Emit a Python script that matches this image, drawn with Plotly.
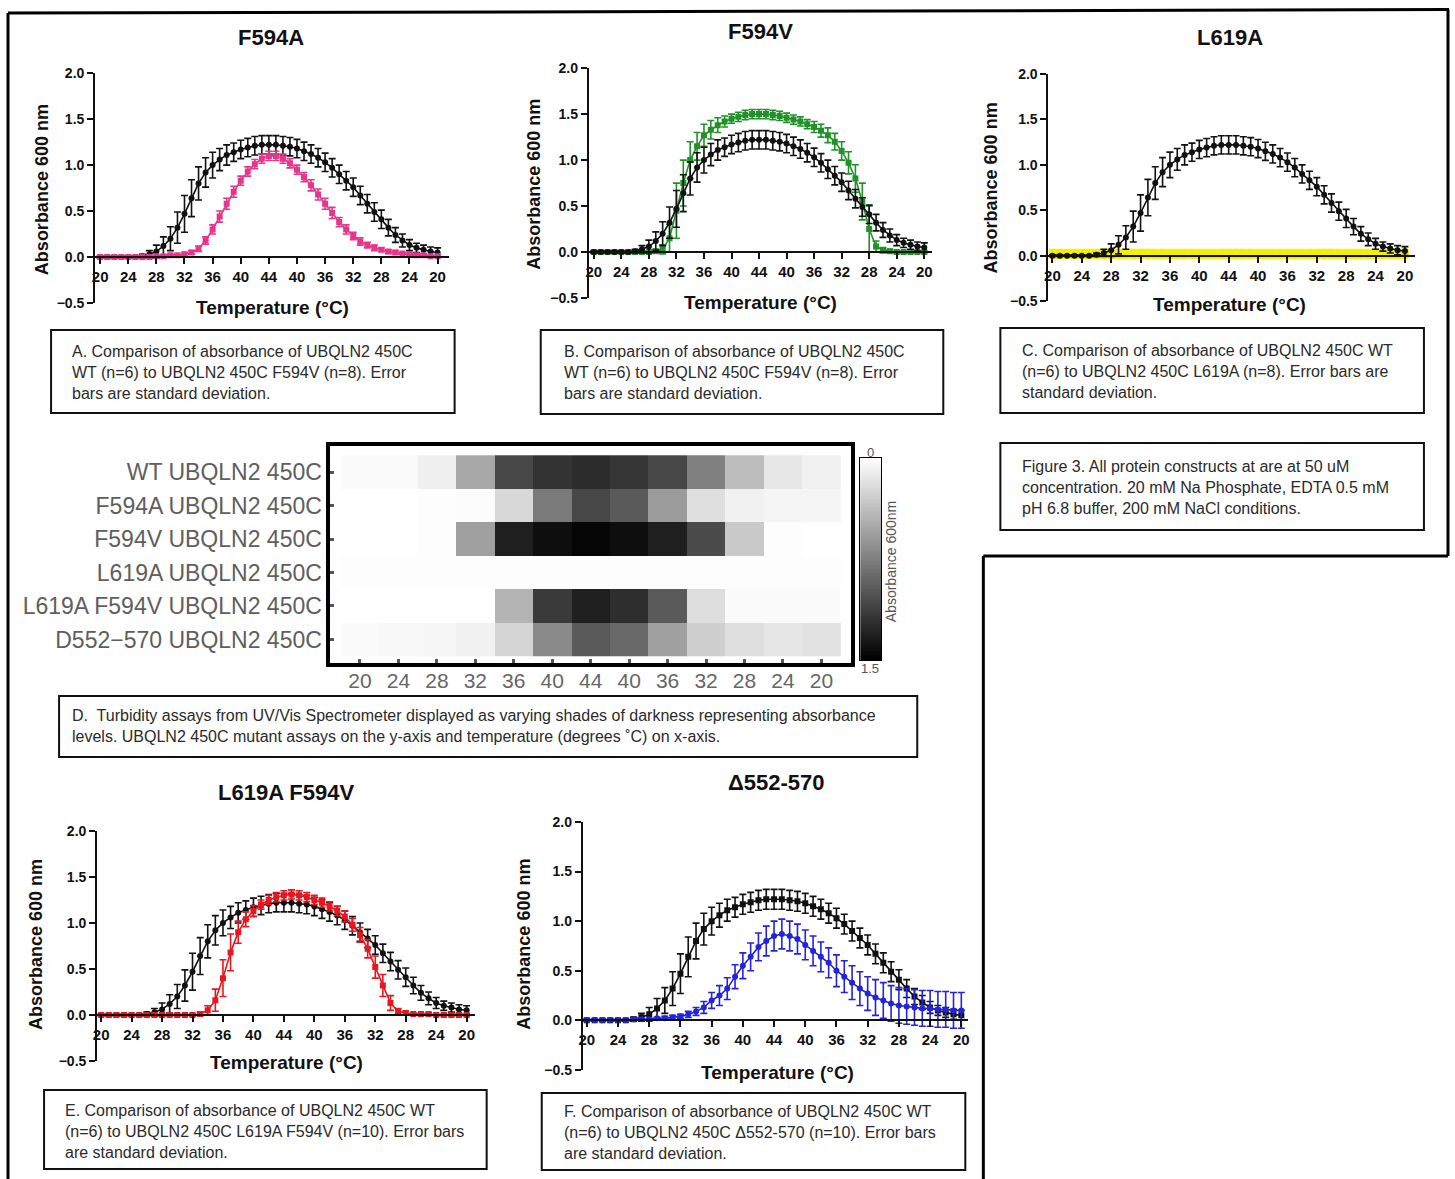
import numpy as np
import plotly.graph_objects as go

W, H = 1455, 1179
FONT = "Liberation Sans, Arial, sans-serif"
# the photographed page shows the figure slightly shifted / compressed;
# layout positions below are given in reference-picture pixels and mapped accordingly
V_SCALE = 1195.0 / 1179.0
V_SHIFT = 8.0
H_SCALE = 0.9952
H_SHIFT = 4.0

# ---------------- data ----------------
TEMPS = [20, 21, 22, 23, 24, 25, 26, 27, 28, 29, 30, 31, 32, 33, 34, 35, 36, 37, 38, 39, 40, 41, 42, 43, 44,
         43, 42, 41, 40, 39, 38, 37, 36, 35, 34, 33, 32, 31, 30, 29, 28, 27, 26, 25, 24, 23, 22, 21, 20]
TICK_LABELS = ["20", "24", "28", "32", "36", "40", "44", "40", "36", "32", "28", "24", "20"]

WT = [0.0, 0.0, 0.0, 0.0, 0.0, 0.0, 0.01, 0.03, 0.06, 0.12, 0.2, 0.32, 0.47, 0.64, 0.8, 0.92, 1.0, 1.06, 1.11,
      1.14, 1.17, 1.19, 1.21, 1.22, 1.22,
      1.22, 1.21, 1.2, 1.18, 1.15, 1.12, 1.08, 1.03, 0.97, 0.9, 0.83, 0.76, 0.67, 0.58, 0.49, 0.41, 0.32, 0.24,
      0.18, 0.13, 0.1, 0.08, 0.06, 0.05]
WT_SD = [0.01, 0.01, 0.01, 0.01, 0.01, 0.01, 0.02, 0.04, 0.07, 0.1, 0.13, 0.17, 0.2, 0.2, 0.18, 0.16, 0.14, 0.12,
         0.11, 0.1, 0.1, 0.1, 0.1, 0.1, 0.1,
         0.1, 0.1, 0.1, 0.1, 0.1, 0.1, 0.1, 0.1, 0.1, 0.1, 0.1, 0.1, 0.1, 0.1, 0.1, 0.1, 0.09, 0.08, 0.07, 0.06,
         0.05, 0.05, 0.05, 0.05]

F594A = [0.0, 0.0, 0.0, 0.0, 0.0, 0.0, 0.0, 0.0, 0.01, 0.01, 0.02, 0.02, 0.03, 0.05, 0.09, 0.18, 0.3, 0.44, 0.58,
         0.71, 0.83, 0.93, 1.01, 1.07, 1.1,
         1.1, 1.07, 1.02, 0.95, 0.87, 0.78, 0.68, 0.58, 0.48, 0.38, 0.3, 0.23, 0.17, 0.13, 0.1, 0.08, 0.06, 0.05,
         0.04, 0.03, 0.02, 0.02, 0.01, 0.01]
F594A_SD = [0.01, 0.01, 0.01, 0.01, 0.01, 0.01, 0.01, 0.01, 0.01, 0.01, 0.01, 0.01, 0.02, 0.02, 0.03, 0.04, 0.05,
            0.06, 0.06, 0.06, 0.05, 0.05, 0.05, 0.05, 0.05,
            0.05, 0.05, 0.05, 0.05, 0.05, 0.06, 0.06, 0.06, 0.06, 0.05, 0.05, 0.04, 0.04, 0.03, 0.03, 0.02, 0.02,
            0.02, 0.01, 0.01, 0.01, 0.01, 0.01, 0.01]

F594V = [0.0, 0.0, 0.0, 0.0, 0.0, 0.0, 0.0, 0.0, 0.0, 0.01, 0.03, 0.15, 0.45, 0.75, 1.0, 1.15, 1.27, 1.33, 1.38,
         1.42, 1.45, 1.47, 1.49, 1.5, 1.5,
         1.5, 1.49, 1.48, 1.46, 1.44, 1.42, 1.39, 1.36, 1.32, 1.27, 1.2, 1.1, 0.97, 0.8, 0.55, 0.25, 0.06, 0.02,
         0.01, 0.0, 0.0, 0.0, 0.0, 0.0]
F594V_SD = [0.01, 0.01, 0.01, 0.01, 0.01, 0.01, 0.01, 0.01, 0.01, 0.02, 0.05, 0.15, 0.3, 0.25, 0.2, 0.15, 0.12,
            0.1, 0.08, 0.06, 0.05, 0.05, 0.05, 0.05, 0.05,
            0.05, 0.05, 0.05, 0.05, 0.05, 0.05, 0.05, 0.06, 0.07, 0.08, 0.09, 0.1, 0.12, 0.15, 0.2, 0.25, 0.06,
            0.03, 0.02, 0.01, 0.01, 0.01, 0.01, 0.01]

L619A = [0.02, 0.02, 0.02, 0.02, 0.02, 0.02, 0.02, 0.02, 0.02, 0.02, 0.02, 0.02, 0.02, 0.02, 0.02, 0.02, 0.02,
         0.02, 0.02, 0.02, 0.02, 0.02, 0.02, 0.02, 0.02,
         0.02, 0.02, 0.02, 0.02, 0.02, 0.02, 0.02, 0.02, 0.02, 0.02, 0.02, 0.02, 0.02, 0.02, 0.02, 0.02, 0.02,
         0.02, 0.02, 0.02, 0.02, 0.02, 0.02, 0.02]
L619A_SD = [0.04, 0.04, 0.04, 0.04, 0.04, 0.04, 0.04, 0.04, 0.04, 0.04, 0.04, 0.04, 0.04, 0.04, 0.04, 0.04, 0.04,
            0.04, 0.04, 0.04, 0.04, 0.04, 0.04, 0.04, 0.04,
            0.04, 0.04, 0.04, 0.04, 0.04, 0.04, 0.04, 0.04, 0.04, 0.04, 0.04, 0.04, 0.04, 0.04, 0.04, 0.04, 0.04,
            0.04, 0.04, 0.04, 0.04, 0.04, 0.04, 0.04]

L619A_F594V = [0.0, 0.0, 0.0, 0.0, 0.0, 0.0, 0.0, 0.0, 0.0, 0.0, 0.0, 0.0, 0.0, 0.01, 0.05, 0.16, 0.4, 0.68, 0.9,
               1.04, 1.13, 1.2, 1.25, 1.28, 1.3,
               1.31, 1.3, 1.28, 1.25, 1.22, 1.18, 1.13, 1.07, 0.98, 0.87, 0.72, 0.52, 0.32, 0.13, 0.04, 0.02, 0.01,
               0.01, 0.01, 0.0, 0.0, 0.0, 0.0, 0.0]
L619A_F594V_SD = [0.01, 0.01, 0.01, 0.01, 0.01, 0.01, 0.01, 0.01, 0.01, 0.01, 0.01, 0.01, 0.01, 0.02, 0.05, 0.12,
                  0.2, 0.2, 0.12, 0.08, 0.06, 0.05, 0.05, 0.05, 0.05,
                  0.05, 0.05, 0.05, 0.05, 0.05, 0.05, 0.05, 0.06, 0.07, 0.08, 0.1, 0.12, 0.12, 0.08, 0.03, 0.02,
                  0.01, 0.01, 0.01, 0.01, 0.01, 0.01, 0.01, 0.01]

D552_570 = [0.0, 0.0, 0.0, 0.0, 0.0, 0.0, 0.01, 0.01, 0.01, 0.02, 0.02, 0.03, 0.04, 0.06, 0.09, 0.13, 0.2, 0.25,
            0.32, 0.44, 0.55, 0.64, 0.74, 0.8, 0.85,
            0.87, 0.85, 0.82, 0.76, 0.7, 0.64, 0.58, 0.5, 0.44, 0.38, 0.32, 0.27, 0.23, 0.2, 0.17, 0.15, 0.14,
            0.13, 0.12, 0.12, 0.11, 0.11, 0.1, 0.1]
D552_570_SD = [0.01, 0.01, 0.01, 0.01, 0.01, 0.01, 0.01, 0.01, 0.01, 0.01, 0.02, 0.02, 0.02, 0.03, 0.04, 0.06,
               0.08, 0.1, 0.11, 0.12, 0.13, 0.14, 0.14, 0.15, 0.15,
               0.15, 0.15, 0.15, 0.15, 0.15, 0.15, 0.15, 0.16, 0.16, 0.17, 0.17, 0.17, 0.18, 0.18, 0.18, 0.18,
               0.18, 0.18, 0.18, 0.18, 0.18, 0.18, 0.18, 0.18]

HM_COLS = ["20", "24", "28", "32", "36", "40", "44", "40", "36", "32", "28", "24", "20"]
HM_ROWS = ["WT UBQLN2 450C", "F594A UBQLN2 450C", "F594V UBQLN2 450C", "L619A UBQLN2 450C",
           "L619A F594V UBQLN2 450C", "D552\u2212570 UBQLN2 450C"]
HM_VALUES = [
    [0.03, 0.03, 0.09, 0.51, 1.08, 1.2, 1.24, 1.18, 1.08, 0.75, 0.39, 0.14, 0.08],
    [0.0, 0.0, 0.01, 0.02, 0.23, 0.78, 1.08, 0.97, 0.59, 0.19, 0.08, 0.06, 0.06],
    [0.0, 0.0, 0.01, 0.56, 1.32, 1.42, 1.47, 1.42, 1.32, 1.06, 0.32, 0.01, 0.0],
    [0.01, 0.01, 0.01, 0.01, 0.01, 0.01, 0.01, 0.01, 0.01, 0.01, 0.01, 0.01, 0.01],
    [0.0, 0.0, 0.0, 0.0, 0.44, 1.16, 1.32, 1.23, 0.97, 0.2, 0.03, 0.03, 0.03],
    [0.03, 0.04, 0.05, 0.08, 0.25, 0.69, 0.97, 0.88, 0.56, 0.28, 0.19, 0.15, 0.17],
]
HM_ZMAX = 1.5

# ---------------- helpers (reference pixels -> paper) ----------------
def px(x):
    return ((x - H_SHIFT) / H_SCALE) / W


def py(y):
    return 1 - (y * V_SCALE - V_SHIFT) / H


fig = go.Figure()
annotations = []
shapes = []

IDX = list(range(len(TEMPS)))
TICK_POS = IDX[::4]

PANELS = [
    dict(n=1, title="F594A", tx=271, ty=37, ax=95, xe=448, t0=100, t1=437, ytop=73, ybot=303,
         ytx=42, yty=190, xtx=272, xty=307,
         series=[(WT, WT_SD, "#111111", "circle", 6), (F594A, F594A_SD, "#E8358C", "square", 6)]),
    dict(n=2, title="F594V", tx=759, ty=31, ax=588, xe=931, t0=593, t1=923, ytop=68, ybot=298,
         ytx=533, yty=184, xtx=759, xty=302,
         series=[(F594V, F594V_SD, "#23912A", "square", 6), (WT, WT_SD, "#111111", "circle", 6)]),
    dict(n=3, title="L619A", tx=1228, ty=37, ax=1047, xe=1413, t0=1051, t1=1403, ytop=74, ybot=301,
         ytx=990, yty=188, xtx=1228, xty=304,
         series=[(L619A, L619A_SD, "#F5F000", "square", 8), (WT, WT_SD, "#111111", "circle", 6)]),
    dict(n=4, title="L619A F594V", tx=286, ty=793, ax=97, xe=474, t0=101, t1=466, ytop=831, ybot=1061,
         ytx=36, yty=945, xtx=286, xty=1063,
         series=[(WT, WT_SD, "#111111", "circle", 6), (L619A_F594V, L619A_F594V_SD, "#E8161E", "square", 6)]),
    dict(n=5, title="\u0394552-570", tx=775, ty=783, ax=582, xe=967, t0=586, t1=960, ytop=822, ybot=1070,
         ytx=523, yty=944, xtx=776, xty=1073,
         series=[(WT, WT_SD, "#111111", "square", 6), (D552_570, D552_570_SD, "#2323DC", "circle", 6)]),
]

for p in PANELS:
    n = p["n"]
    xa = "x" if n == 1 else f"x{n}"
    ya = "y" if n == 1 else f"y{n}"
    per = (p["t1"] - p["t0"]) / 48.0
    r0 = -(p["t0"] - p["ax"]) / per
    r1 = 48 + (p["xe"] - p["t1"]) / per
    y0px = p["ybot"] - 0.2 * (p["ybot"] - p["ytop"])
    for vals, sd, col, sym, msize in p["series"]:
        fig.add_trace(go.Scatter(
            x=IDX, y=vals, mode="lines+markers",
            line=dict(color=col, width=1.6 if msize == 6 else 3),
            marker=dict(color=col, size=msize, symbol=sym),
            error_y=dict(type="data", array=sd, visible=True, color=col,
                         thickness=1.6 if msize == 6 else 3, width=3.5),
            xaxis=xa, yaxis=ya, showlegend=False, hoverinfo="skip"))
    xkey = "xaxis" if n == 1 else f"xaxis{n}"
    ykey = "yaxis" if n == 1 else f"yaxis{n}"
    fig.update_layout(**{
        xkey: dict(domain=[px(p["ax"]), px(p["xe"])], range=[r0, r1], anchor="free",
                   position=py(y0px), showline=True, linecolor="#111", linewidth=2,
                   ticks="outside", ticklen=6, tickwidth=2, tickcolor="#111",
                   tickvals=TICK_POS, ticktext=TICK_LABELS, showgrid=False, zeroline=False,
                   tickfont=dict(family=FONT, size=15, color="#111", weight="bold")),
        ykey: dict(domain=[py(p["ybot"]), py(p["ytop"])], range=[-0.5, 2.0], anchor=xa,
                   showline=True, linecolor="#111", linewidth=2, ticks="outside", ticklen=6,
                   tickwidth=2, tickcolor="#111", tickvals=[-0.5, 0, 0.5, 1.0, 1.5, 2.0],
                   tickformat=".1f", showgrid=False, zeroline=False,
                   tickfont=dict(family=FONT, size=14, color="#111", weight="bold")),
    })
    annotations.append(dict(x=px(p["tx"]), y=py(p["ty"]), xref="paper", yref="paper", text=p["title"],
                            showarrow=False, xanchor="center", yanchor="middle",
                            font=dict(family=FONT, size=22, color="#111", weight="bold")))
    annotations.append(dict(x=px(p["ytx"]), y=py(p["yty"]), xref="paper", yref="paper",
                            text="Absorbance 600 nm", textangle=-90, showarrow=False,
                            xanchor="center", yanchor="middle",
                            font=dict(family=FONT, size=18, color="#111", weight="bold")))
    annotations.append(dict(x=px(p["xtx"]), y=py(p["xty"]), xref="paper", yref="paper",
                            text="Temperature (\u00b0C)", showarrow=False, xanchor="center",
                            yanchor="middle", font=dict(family=FONT, size=19, color="#111", weight="bold")))

# ---------------- heatmap (panel D) ----------------
fig.add_trace(go.Heatmap(
    z=HM_VALUES, x=list(range(len(HM_COLS))), y=list(range(len(HM_ROWS))),
    colorscale=[[0, "#ffffff"], [1, "#000000"]], zmin=0, zmax=HM_ZMAX, showscale=False,
    xaxis="x6", yaxis="y6", hoverinfo="skip"))
col_w = 38.4
row_h = 33.5
fig.update_layout(
    xaxis6=dict(domain=[px(330), px(850)], range=[(330 - 359.5) / col_w, (850 - 359.5) / col_w],
                anchor="y6", showline=True, mirror=True, linecolor="#000", linewidth=4,
                ticks="inside", ticklen=4, tickwidth=3, tickcolor="#555", ticklabelstandoff=-4,
                tickvals=list(range(len(HM_COLS))), ticktext=HM_COLS, showgrid=False, zeroline=False,
                tickfont=dict(family=FONT, size=21, color="#666")),
    yaxis6=dict(domain=[py(663), py(446)], range=[(663 - 472) / row_h, (446 - 472) / row_h],
                anchor="x6", showline=True, mirror=True, linecolor="#000", linewidth=4,
                ticks="inside", ticklen=4, tickwidth=3, tickcolor="#555",
                tickvals=list(range(len(HM_ROWS))), ticktext=HM_ROWS, showgrid=False, zeroline=False,
                tickfont=dict(family=FONT, size=23, color="#5e5e5e")),
)

# colour-scale strip (0 at top, 1.5 at bottom)
CB_LEVELS = np.linspace(0, HM_ZMAX, 151)
fig.add_trace(go.Heatmap(
    z=[[v] for v in CB_LEVELS], x=[0], y=list(CB_LEVELS),
    colorscale=[[0, "#ffffff"], [1, "#000000"]], zmin=0, zmax=HM_ZMAX, showscale=False,
    xaxis="x7", yaxis="y7", hoverinfo="skip"))
fig.update_layout(
    xaxis7=dict(domain=[px(859), px(880)], range=[-0.5, 0.5], anchor="y7", showline=True, mirror=True,
                linecolor="#000", linewidth=1, showticklabels=False, ticks="", showgrid=False,
                zeroline=False),
    yaxis7=dict(domain=[py(660), py(458)], range=[HM_ZMAX, 0], anchor="x7", showline=True, mirror=True,
                linecolor="#000", linewidth=1, showticklabels=False, ticks="", showgrid=False,
                zeroline=False),
)
annotations.append(dict(x=px(869), y=py(452), xref="paper", yref="paper", text="0", showarrow=False,
                        font=dict(family=FONT, size=13, color="#555")))
annotations.append(dict(x=px(869), y=py(669), xref="paper", yref="paper", text="1.5", showarrow=False,
                        font=dict(family=FONT, size=13, color="#555")))
annotations.append(dict(x=px(890), y=py(562), xref="paper", yref="paper", text="Absorbance 600nm",
                        textangle=-90, showarrow=False,
                        font=dict(family=FONT, size=14, color="#555")))

# ---------------- caption boxes ----------------
BOXES = [
    ((51, 330, 454, 413), (70, 372), 16,
     "A. Comparison of absorbance of UBQLN2 450C<br>WT (n=6) to UBQLN2 450C F594V (n=8). Error<br>bars are standard deviation."),
    ((540, 330, 942, 414), (561, 372), 16,
     "B. Comparison of absorbance of UBQLN2 450C<br>WT (n=6) to UBQLN2 450C F594V (n=8). Error<br>bars are standard deviation."),
    ((999, 328, 1422, 413), (1019, 371), 16,
     "C. Comparison of absorbance of UBQLN2 450C WT<br>(n=6) to UBQLN2 450C L619A (n=8). Error bars are<br>standard deviation."),
    ((999, 443, 1422, 530), (1019, 487), 16,
     "Figure 3. All protein constructs at are at 50 uM<br>concentration. 20 mM Na Phosphate, EDTA 0.5 mM<br>pH 6.8 buffer, 200 mM NaCl conditions."),
    ((59, 696, 916, 757), (70, 726), 16,
     "D.  Turbidity assays from UV/Vis Spectrometer displayed as varying shades of darkness representing absorbance<br>levels. UBQLN2 450C mutant assays on the y-axis and temperature (degrees \u02daC) on x-axis."),
    ((44, 1090, 486, 1169), (63, 1132), 16,
     "E. Comparison of absorbance of UBQLN2 450C WT<br>(n=6) to UBQLN2 450C L619A F594V (n=10). Error bars<br>are standard deviation."),
    ((541, 1093, 964, 1170), (561, 1133), 16,
     "F. Comparison of absorbance of UBQLN2 450C WT<br>(n=6) to UBQLN2 450C \u0394552-570 (n=10). Error bars<br>are standard deviation."),
]
for (x0, y0, x1, y1), (tx, tyc), fs, txt in BOXES:
    shapes.append(dict(type="rect", xref="paper", yref="paper", x0=px(x0), x1=px(x1), y0=py(y1), y1=py(y0),
                       line=dict(color="#111", width=2)))
    annotations.append(dict(x=px(tx), y=py(tyc), xref="paper", yref="paper", text=txt, showarrow=False,
                            xanchor="left", yanchor="middle", align="left",
                            font=dict(family=FONT, size=fs, color="#2a2a2a")))

# ---------------- outer frame ----------------
FRAME = [((8, 13), (1447, 9.5)), ((8, 13), (8, 1185)), ((1446, 9.5), (1446, 556)),
         ((982, 556), (1446, 556)), ((982, 556), (982, 1185))]
for (a, b) in FRAME:
    shapes.append(dict(type="line", xref="paper", yref="paper", x0=px(a[0]), y0=py(a[1]),
                       x1=px(b[0]), y1=py(b[1]), line=dict(color="#000", width=3)))

fig.update_layout(width=W, height=H, margin=dict(l=0, r=0, t=0, b=0), paper_bgcolor="white",
                  plot_bgcolor="rgba(0,0,0,0)", showlegend=False, annotations=annotations, shapes=shapes)

fig.write_html("out.html")
